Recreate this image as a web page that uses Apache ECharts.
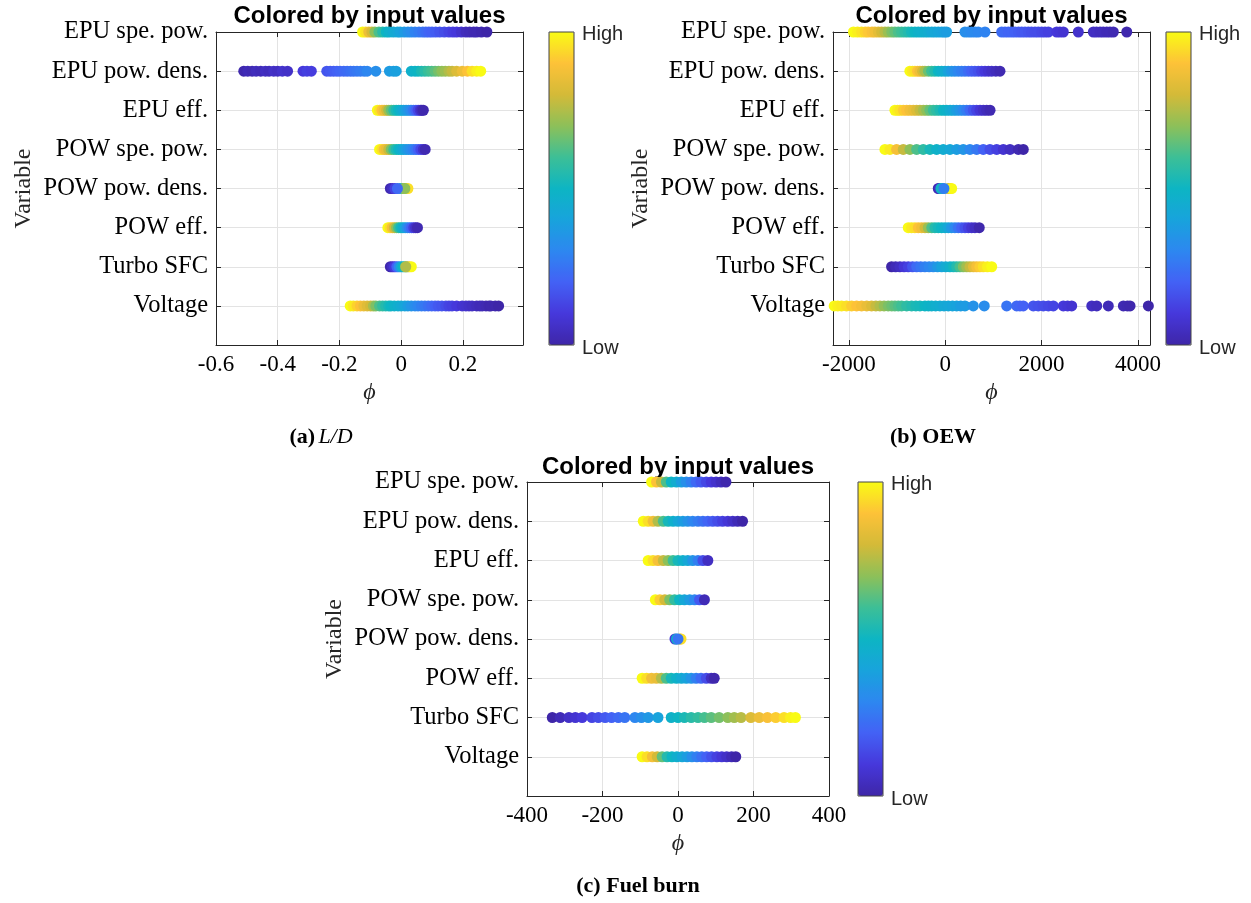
<!DOCTYPE html>
<html><head><meta charset="utf-8">
<script src="https://cdn.jsdelivr.net/npm/echarts@6/dist/echarts.min.js"></script>
<style>html,body{margin:0;padding:0;background:#fff}#c{width:1251px;height:903px}</style>
</head><body><div id="c"></div>
<script>
// Row names, bottom (1) to top (8)
const variables = ['Voltage','Turbo SFC','POW eff.','POW pow. dens.','POW spe. pow.','EPU eff.','EPU pow. dens.','EPU spe. pow.'];

// ---- Panel (a) L/D : [phi, colour value 0..1] ----
const ldEPUspe = [[-0.125,1],[-0.115,0.96],[-0.105,0.86],[-0.095,0.8],[-0.085,0.7],[-0.072,0.62],[-0.06,0.56],[-0.048,0.5],[-0.038,0.47],[-0.025,0.44],[-0.012,0.42],[-0.003,0.4],[0.01,0.37],[0.022,0.34],[0.033,0.32],[0.045,0.29],[0.058,0.27],[0.07,0.25],[0.08,0.23],[0.09,0.21],[0.1,0.2],[0.112,0.19],[0.125,0.17],[0.14,0.15],[0.155,0.13],[0.168,0.11],[0.18,0.1],[0.195,0.07],[0.21,0.04],[0.222,0.03],[0.235,0.02],[0.245,0.02],[0.26,0.01],[0.278,0]];
const ldEPUpow = [[-0.51,0.01],[-0.497,0.03],[-0.483,0.02],[-0.47,0.04],[-0.455,0.03],[-0.44,0.05],[-0.428,0.04],[-0.413,0.06],[-0.4,0.05],[-0.385,0.07],[-0.368,0.06],[-0.318,0.1],[-0.305,0.12],[-0.291,0.11],[-0.241,0.17],[-0.23,0.18],[-0.219,0.19],[-0.208,0.2],[-0.198,0.21],[-0.186,0.22],[-0.175,0.23],[-0.164,0.24],[-0.154,0.25],[-0.143,0.26],[-0.132,0.27],[-0.12,0.28],[-0.11,0.3],[-0.082,0.33],[-0.038,0.37],[-0.025,0.38],[-0.016,0.39],[0.033,0.47],[0.045,0.49],[0.055,0.5],[0.066,0.53],[0.077,0.56],[0.088,0.59],[0.099,0.61],[0.11,0.64],[0.121,0.67],[0.132,0.7],[0.143,0.72],[0.155,0.75],[0.165,0.78],[0.18,0.82],[0.198,0.86],[0.215,0.9],[0.23,0.95],[0.245,0.98],[0.258,1]];
const ldEPUeff = [[-0.077,1],[-0.07,0.96],[-0.062,0.9],[-0.055,0.86],[-0.047,0.8],[-0.04,0.72],[-0.032,0.65],[-0.024,0.58],[-0.016,0.53],[-0.008,0.5],[0,0.46],[0.008,0.42],[0.016,0.38],[0.024,0.35],[0.032,0.31],[0.04,0.26],[0.048,0.2],[0.055,0.14],[0.062,0.08],[0.067,0.04],[0.072,0.01]];
const ldPOWspe = [[-0.07,1],[-0.062,0.95],[-0.055,0.88],[-0.048,0.85],[-0.04,0.78],[-0.032,0.68],[-0.024,0.6],[-0.016,0.54],[-0.008,0.5],[0,0.46],[0.008,0.42],[0.016,0.38],[0.024,0.35],[0.032,0.32],[0.04,0.29],[0.048,0.25],[0.056,0.2],[0.064,0.14],[0.072,0.07],[0.078,0.02]];
const ldPOWpow = [[-0.035,0.02],[-0.028,0.05],[-0.02,0.12],[-0.004,0.45],[0.004,0.6],[0.01,0.75],[0.016,0.85],[0.022,0.95],[0.012,0.7],[-0.012,0.22]];
const ldPOWeff = [[-0.043,1],[-0.036,0.95],[-0.029,0.88],[-0.022,0.8],[-0.015,0.7],[-0.008,0.6],[-0.001,0.52],[0.006,0.46],[0.013,0.4],[0.02,0.33],[0.027,0.27],[0.034,0.2],[0.041,0.12],[0.047,0.06],[0.053,0.02]];
const ldTurbo = [[-0.035,0.01],[-0.028,0.05],[-0.021,0.1],[-0.014,0.2],[-0.007,0.3],[0,0.42],[0.007,0.5],[0.014,0.62],[0.02,0.72],[0.026,0.9],[0.033,1],[0.015,0.75]];
const ldVoltage = [[-0.165,1],[-0.155,0.97],[-0.143,0.93],[-0.132,0.9],[-0.121,0.86],[-0.11,0.83],[-0.099,0.8],[-0.09,0.74],[-0.082,0.68],[-0.07,0.62],[-0.06,0.58],[-0.05,0.55],[-0.04,0.52],[-0.033,0.5],[-0.022,0.48],[-0.01,0.46],[0,0.44],[0.012,0.41],[0.022,0.38],[0.033,0.35],[0.045,0.32],[0.055,0.3],[0.066,0.28],[0.077,0.26],[0.088,0.24],[0.099,0.22],[0.11,0.2],[0.12,0.18],[0.132,0.17],[0.145,0.15],[0.155,0.13],[0.165,0.12],[0.18,0.1],[0.198,0.08],[0.21,0.07],[0.22,0.06],[0.23,0.05],[0.245,0.04],[0.255,0.03],[0.263,0.03],[0.275,0.02],[0.285,0.01],[0.291,0.01],[0.305,0.01],[0.316,0]];

// ---- Panel (b) OEW ----
const oewEPUspe = [[-1906,1],[-1820,0.98],[-1737,0.96],[-1660,0.93],[-1599,0.91],[-1520,0.89],[-1460,0.87],[-1390,0.84],[-1321,0.8],[-1250,0.76],[-1184,0.72],[-1110,0.68],[-1045,0.65],[-975,0.62],[-906,0.6],[-835,0.57],[-768,0.55],[-700,0.52],[-629,0.5],[-560,0.48],[-490,0.47],[-420,0.46],[-353,0.45],[-280,0.43],[-214,0.42],[-145,0.41],[-75,0.4],[-20,0.39],[29,0.38],[409,0.33],[480,0.32],[548,0.31],[620,0.31],[685,0.3],[825,0.29],[1171,0.23],[1240,0.22],[1309,0.21],[1380,0.21],[1448,0.2],[1520,0.19],[1587,0.18],[1655,0.18],[1724,0.17],[1790,0.16],[1863,0.15],[1930,0.15],[2002,0.14],[2070,0.13],[2139,0.12],[2314,0.1],[2380,0.09],[2451,0.08],[2762,0.07],[3074,0.05],[3140,0.05],[3213,0.04],[3280,0.04],[3352,0.03],[3420,0.03],[3489,0.02],[3768,0.01]];
const oewEPUpow = [[-735,1],[-680,0.97],[-629,0.95],[-575,0.9],[-525,0.86],[-470,0.8],[-422,0.74],[-350,0.66],[-283,0.6],[-215,0.55],[-145,0.5],[-75,0.47],[-6,0.45],[60,0.4],[133,0.36],[200,0.33],[270,0.3],[340,0.28],[409,0.26],[480,0.23],[548,0.2],[615,0.18],[685,0.16],[755,0.13],[825,0.1],[895,0.08],[964,0.06],[1050,0.04],[1136,0.02]];
const oewEPUeff = [[-1045,1],[-990,0.98],[-941,0.96],[-870,0.92],[-802,0.9],[-735,0.87],[-664,0.85],[-595,0.82],[-525,0.78],[-455,0.74],[-386,0.7],[-320,0.65],[-249,0.6],[-180,0.57],[-110,0.54],[-40,0.5],[29,0.48],[100,0.45],[166,0.42],[235,0.38],[305,0.35],[375,0.31],[444,0.27],[513,0.22],[582,0.17],[650,0.13],[721,0.09],[790,0.06],[860,0.04],[930,0.02]];
const oewPOWspe = [[-1252,1],[-1148,0.97],[-1010,0.88],[-872,0.78],[-733,0.7],[-594,0.62],[-457,0.57],[-318,0.52],[-179,0.48],[-42,0.45],[98,0.42],[237,0.38],[374,0.35],[513,0.3],[652,0.26],[789,0.2],[928,0.15],[1068,0.12],[1205,0.08],[1344,0.05],[1516,0.02],[1620,0]];
const oewPOWpow = [[-145,0.02],[-120,0.05],[-90,0.48],[-60,0.52],[60,0.75],[100,0.9],[133,1],[-27,0.28]];
const oewPOWeff = [[-768,1],[-700,0.97],[-629,0.95],[-560,0.9],[-490,0.87],[-420,0.8],[-353,0.72],[-280,0.62],[-214,0.55],[-145,0.52],[-75,0.5],[-5,0.46],[62,0.42],[130,0.36],[201,0.3],[270,0.25],[341,0.2],[410,0.16],[478,0.12],[548,0.08],[617,0.05],[706,0.01]];
const oewTurbo = [[-1114,0],[-1030,0.03],[-941,0.05],[-855,0.09],[-768,0.12],[-680,0.17],[-594,0.22],[-510,0.25],[-422,0.28],[-335,0.3],[-249,0.32],[-160,0.36],[-75,0.4],[10,0.44],[98,0.47],[170,0.51],[237,0.55],[305,0.61],[374,0.68],[445,0.73],[513,0.78],[585,0.84],[652,0.88],[720,0.92],[789,0.95],[875,0.98],[964,1]];
const oewVoltage = [[-2305,1],[-2230,0.98],[-2152,0.97],[-2050,0.95],[-1944,0.92],[-1840,0.9],[-1737,0.88],[-1630,0.85],[-1529,0.82],[-1440,0.78],[-1356,0.75],[-1270,0.71],[-1184,0.68],[-1110,0.66],[-1045,0.64],[-975,0.62],[-906,0.6],[-800,0.57],[-698,0.55],[-610,0.53],[-525,0.52],[-422,0.5],[-350,0.49],[-283,0.48],[-200,0.46],[-110,0.45],[-25,0.43],[62,0.42],[150,0.41],[237,0.4],[320,0.38],[409,0.37],[582,0.34],[810,0.32],[1275,0.25],[1483,0.22],[1550,0.21],[1620,0.2],[1828,0.17],[1930,0.16],[2035,0.15],[2140,0.14],[2243,0.13],[2451,0.1],[2540,0.09],[2625,0.08],[3041,0.05],[3145,0.04],[3385,0.03],[3697,0.02],[3780,0.015],[3836,0.01],[4216,0]];

// ---- Panel (c) Fuel burn ----
const fbEPUspe = [[-70,1],[-57,0.9],[-44,0.78],[-31,0.62],[-18,0.5],[-4,0.45],[9,0.38],[22,0.33],[35,0.28],[48,0.22],[61,0.18],[75,0.14],[88,0.1],[101,0.07],[114,0.04],[127,0.01]];
const fbEPUpow = [[-92,1],[-79,0.95],[-66,0.87],[-53,0.75],[-39,0.62],[-26,0.52],[-13,0.47],[0,0.42],[13,0.38],[26,0.34],[39,0.3],[53,0.27],[66,0.24],[79,0.21],[92,0.18],[105,0.15],[118,0.12],[132,0.09],[145,0.06],[158,0.03],[171,0]];
const fbEPUeff = [[-79,1],[-66,0.95],[-53,0.88],[-39,0.78],[-26,0.7],[-13,0.6],[0,0.52],[13,0.47],[26,0.42],[39,0.35],[53,0.28],[66,0.15],[79,0.05]];
const fbPOWspe = [[-60,1],[-48,0.92],[-35,0.8],[-22,0.68],[-9,0.58],[4,0.5],[17,0.42],[31,0.37],[44,0.3],[57,0.18],[70,0.03]];
const fbPOWpow = [[-8,0.1],[-4,0.5],[5,0.8],[8,0.95],[0,0.25]];
const fbPOWeff = [[-95,1],[-83,0.95],[-70,0.87],[-57,0.85],[-44,0.75],[-31,0.62],[-18,0.52],[-4,0.48],[9,0.44],[22,0.4],[35,0.35],[48,0.28],[61,0.22],[75,0.15],[88,0.05],[96,0.01]];
const fbTurbo = [[-333,0],[-312,0.03],[-289,0.06],[-272,0.08],[-254,0.1],[-228,0.13],[-211,0.15],[-193,0.18],[-176,0.2],[-158,0.22],[-141,0.25],[-114,0.3],[-97,0.33],[-79,0.36],[-53,0.4],[-18,0.48],[0,0.5],[17,0.53],[35,0.56],[53,0.58],[70,0.61],[88,0.64],[109,0.67],[132,0.7],[149,0.73],[167,0.76],[193,0.82],[215,0.86],[237,0.89],[259,0.92],[281,0.95],[298,0.98],[311,1]];
const fbVoltage = [[-95,1],[-82,0.95],[-68,0.88],[-55,0.8],[-42,0.65],[-29,0.55],[-16,0.5],[-3,0.46],[11,0.42],[24,0.38],[37,0.33],[50,0.28],[63,0.24],[76,0.2],[89,0.16],[103,0.12],[116,0.09],[129,0.06],[142,0.03],[153,0]];

const xTicksA = {min:-0.6, max:0.395, interval:0.2};
const xTicksB = {min:-2330, max:4250};
const xTicksC = {min:-400, max:400, interval:200};

const parula = ['#3E26A8','#4638DB','#4361F5','#2D87F0','#18A3DC','#0DB5C3','#3DBF96','#8DC059','#D4BA38','#FDC238','#F9FB15'];

function build(rowsBottomToTop){
  const out = [];
  rowsBottomToTop.forEach((row, i) => row.forEach(p => out.push([p[0], i+1, p[1]])));
  return out;
}
const dataA = build([ldVoltage, ldTurbo, ldPOWeff, ldPOWpow, ldPOWspe, ldEPUeff, ldEPUpow, ldEPUspe]);
const dataB = build([oewVoltage, oewTurbo, oewPOWeff, oewPOWpow, oewPOWspe, oewEPUeff, oewEPUpow, oewEPUspe]);
const dataC = build([fbVoltage, fbTurbo, fbPOWeff, fbPOWpow, fbPOWspe, fbEPUeff, fbEPUpow, fbEPUspe]);

const SERIF = 'Liberation Serif';
const SANS = 'Liberation Sans';
const AX = '#262626';
const GRID = '#e3e3e3';

const grids = [
  {left:216, top:32, width:307, height:313},
  {left:833, top:32, width:317, height:313},
  {left:527, top:482, width:302, height:314}
];
const xr = [xTicksA, xTicksB, xTicksC];

const xAxes = [], yAxes = [];
grids.forEach((g, i) => {
  const r = xr[i];
  xAxes.push(Object.assign({
    type:'value', gridIndex:i, position:'bottom',
    name:'\u03D5', nameLocation:'middle', nameGap:36,
    nameTextStyle:{fontFamily:SERIF, fontStyle:'italic', fontSize:24, color:AX},
    axisLine:{show:true, onZero:false, lineStyle:{color:AX, width:1}},
    axisTick:{show:true, inside:true, length:5, lineStyle:{color:AX}},
    axisLabel:{fontFamily:SERIF, fontSize:23, color:'#000', margin:8, showMaxLabel: i===2, showMinLabel: i!==1,
      formatter: v => String(Math.round(v*1000)/1000)},
    splitLine:{show:true, lineStyle:{color:GRID, width:1}}
  }, r, i===1 ? {splitNumber:3} : {}));
  xAxes.push(Object.assign({
    type:'value', gridIndex:i, position:'top',
    axisLine:{show:true, onZero:false, lineStyle:{color:AX, width:1}},
    axisTick:{show:true, inside:true, length:5, lineStyle:{color:AX}},
    axisLabel:{show:false}, splitLine:{show:false}
  }, r, i===1 ? {splitNumber:3} : {}));
  yAxes.push({
    type:'value', gridIndex:i, position:'left', min:0, max:8, interval:1,
    name:'Variable', nameLocation:'middle', nameGap:180, nameRotate:90,
    nameTextStyle:{fontFamily:SERIF, fontSize:24, color:AX},
    axisLine:{show:true, onZero:false, lineStyle:{color:AX, width:1}},
    axisTick:{show:true, inside:true, length:5, lineStyle:{color:AX}},
    axisLabel:{fontFamily:SERIF, fontSize:24.5, color:'#000', margin:8,
      formatter: v => (v >= 1 && v <= 8) ? variables[v-1] : ''},
    splitLine:{show:true, lineStyle:{color:GRID, width:1}}
  });
  yAxes.push({
    type:'value', gridIndex:i, position:'right', min:0, max:8, interval:1,
    axisLine:{show:true, onZero:false, lineStyle:{color:AX, width:1}},
    axisTick:{show:true, inside:true, length:5, lineStyle:{color:AX}},
    axisLabel:{show:false}, splitLine:{show:false}
  });
});

const series = [dataA, dataB, dataC].map((d, i) => ({
  type:'scatter', xAxisIndex:2*i, yAxisIndex:2*i, data:d,
  symbolSize:11, clip:false, z:10, itemStyle:{opacity:1},
  silent:true
}));

const cbars = [{left:549, top:32, h:313}, {left:1166, top:32, h:313}, {left:858, top:482, h:314}];
const visualMap = cbars.map((c, i) => ({
  type:'continuous', seriesIndex:i, dimension:2, min:0, max:1,
  left:c.left, top:c.top, itemWidth:25, itemHeight:c.h, padding:0,
  calculable:false, text:null, showLabel:false, realtime:false,
  borderColor:'#555', borderWidth:0,
  inRange:{color:parula}
}));

const graphic = [];
// titles
[[369.5, 16], [991.5, 16], [678, 467]].forEach(p => graphic.push({
  type:'text', x:p[0], y:p[1], z:1, silent:true,
  style:{text:'Colored by input values', fontFamily:SANS, fontWeight:'bold', fontSize:24, fill:'#000', align:'center', verticalAlign:'middle'}
}));
// High / Low labels
cbars.forEach(c => {
  graphic.push({type:'text', x:c.left+33, y:c.top+2, silent:true,
    style:{text:'High', fontFamily:SANS, fontSize:20, fill:'#262626', align:'left', verticalAlign:'middle'}});
  graphic.push({type:'text', x:c.left+33, y:c.top+c.h+3, silent:true,
    style:{text:'Low', fontFamily:SANS, fontSize:20, fill:'#262626', align:'left', verticalAlign:'middle'}});
  graphic.push({type:'rect', silent:true, z:100, shape:{x:c.left, y:c.top, width:25, height:c.h},
    style:{fill:'none', stroke:'#444', lineWidth:1}});
});
// captions
const rich = {
  b:{fontFamily:SERIF, fontWeight:'bold', fontSize:22, fill:'#000'},
  i:{fontFamily:SERIF, fontStyle:'italic', fontSize:22, fill:'#000'}
};
graphic.push({type:'text', x:321, y:437, silent:true, style:{text:'{b|(a)} {i|L/D}', rich:rich, align:'center', verticalAlign:'middle'}});
graphic.push({type:'text', x:933, y:437, silent:true, style:{text:'{b|(b) OEW}', rich:rich, align:'center', verticalAlign:'middle'}});
graphic.push({type:'text', x:638, y:886, silent:true, style:{text:'{b|(c) Fuel burn}', rich:rich, align:'center', verticalAlign:'middle'}});

const chart = echarts.init(document.getElementById('c'), null, {renderer:'canvas'});
chart.setOption({
  backgroundColor:'#ffffff',
  animation:false,
  grid: grids,
  xAxis: xAxes,
  yAxis: yAxes,
  visualMap: visualMap,
  series: series,
  graphic: graphic
});
</script>
</body></html>
